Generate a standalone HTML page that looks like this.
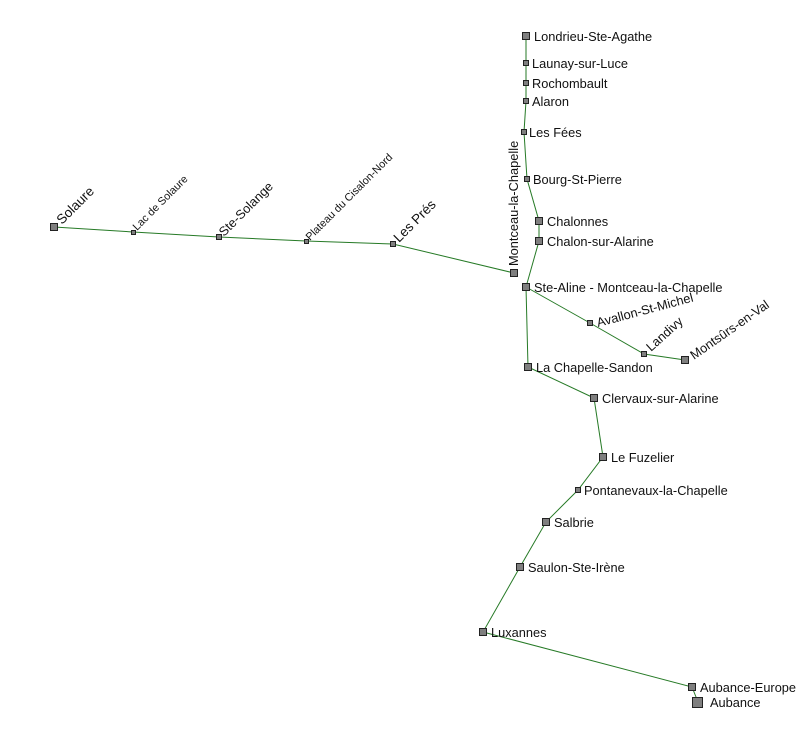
<!DOCTYPE html>
<html><head><style>
html,body{margin:0;padding:0;background:#fff;width:799px;height:730px;overflow:hidden}
svg text{font-family:"Liberation Sans",Arial,sans-serif;font-size:12.8px;fill:#111}
</style></head><body>
<svg width="799" height="730" xmlns="http://www.w3.org/2000/svg">
<g stroke="#267a26" stroke-width="1" fill="none">
<polyline points="54,227 133,232 219,237 306,241 393,244 514,273"/>
<polyline points="526,36 526,63 526,83 526,101 524,132 527,179 539,221 539,241 526,287"/>
<polyline points="526,287 590,323 644,354 685,360"/>
<polyline points="526,287 528,367 594,398 603,457 578,490 546,522 520,567 483,632 692,687 698,702"/>
</g>
<g fill="#7f7f7f" stroke="#222" stroke-width="1">
<rect x="50.5" y="223.5" width="7" height="7"/>
<rect x="131.5" y="230.5" width="4" height="4"/>
<rect x="216.5" y="234.5" width="5" height="5"/>
<rect x="304.5" y="239.5" width="4" height="4"/>
<rect x="390.5" y="241.5" width="5" height="5"/>
<rect x="522.5" y="32.5" width="7" height="7"/>
<rect x="523.5" y="60.5" width="5" height="5"/>
<rect x="523.5" y="80.5" width="5" height="5"/>
<rect x="523.5" y="98.5" width="5" height="5"/>
<rect x="521.5" y="129.5" width="5" height="5"/>
<rect x="524.5" y="176.5" width="5" height="5"/>
<rect x="535.5" y="217.5" width="7" height="7"/>
<rect x="535.5" y="237.5" width="7" height="7"/>
<rect x="510.5" y="269.5" width="7" height="7"/>
<rect x="522.5" y="283.5" width="7" height="7"/>
<rect x="587.5" y="320.5" width="5" height="5"/>
<rect x="641.5" y="351.5" width="5" height="5"/>
<rect x="681.5" y="356.5" width="7" height="7"/>
<rect x="524.5" y="363.5" width="7" height="7"/>
<rect x="590.5" y="394.5" width="7" height="7"/>
<rect x="599.5" y="453.5" width="7" height="7"/>
<rect x="575.5" y="487.5" width="5" height="5"/>
<rect x="542.5" y="518.5" width="7" height="7"/>
<rect x="516.5" y="563.5" width="7" height="7"/>
<rect x="479.5" y="628.5" width="7" height="7"/>
<rect x="688.5" y="683.5" width="7" height="7"/>
<rect x="692.5" y="697.5" width="10" height="10"/>
</g>
<text x="534" y="41">Londrieu-Ste-Agathe</text>
<text x="532" y="68">Launay-sur-Luce</text>
<text x="532" y="88">Rochombault</text>
<text x="532" y="106">Alaron</text>
<text x="529" y="137">Les Fées</text>
<text x="533" y="184">Bourg-St-Pierre</text>
<text x="547" y="226">Chalonnes</text>
<text x="547" y="246">Chalon-sur-Alarine</text>
<text x="534" y="292">Ste-Aline - Montceau-la-Chapelle</text>
<text x="536" y="372">La Chapelle-Sandon</text>
<text x="602" y="403">Clervaux-sur-Alarine</text>
<text x="611" y="462">Le Fuzelier</text>
<text x="584" y="495">Pontanevaux-la-Chapelle</text>
<text x="554" y="527">Salbrie</text>
<text x="528" y="572">Saulon-Ste-Irène</text>
<text x="491" y="637">Luxannes</text>
<text x="700" y="692">Aubance-Europe</text>
<text x="710" y="707">Aubance</text>
<text transform="translate(518,266) rotate(-90)">Montceau-la-Chapelle</text>
<text transform="translate(598,327) rotate(-15)">Avallon-St-Michel</text>
<text transform="translate(651,352) rotate(-42)">Landivy</text>
<text transform="translate(694,360) rotate(-35)">Montsûrs-en-Val</text>
<text transform="translate(62,225) rotate(-45)" style="font-size:13.5px">Solaure</text>
<text transform="translate(137,231) rotate(-45)" style="font-size:10.8px">Lac de Solaure</text>
<text transform="translate(224,237) rotate(-45)">Ste-Solange</text>
<text transform="translate(310,241) rotate(-45)" style="font-size:10.8px">Plateau du Cisalon-Nord</text>
<text transform="translate(399,243) rotate(-45)" style="font-size:13.5px">Les Prés</text>
</svg>
</body></html>
